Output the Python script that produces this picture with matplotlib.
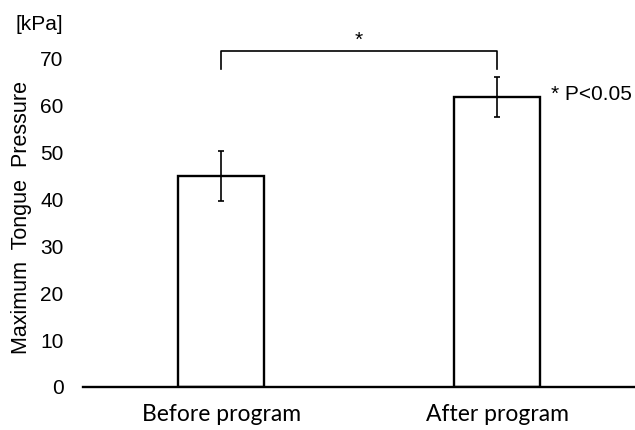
import numpy as np
import matplotlib
matplotlib.use("Agg")
import matplotlib.pyplot as plt

#%% data
groups = ["Before program", "After program"]
means = [45.0, 61.8]
errors = [5.3, 4.3]
yticks = [0, 10, 20, 30, 40, 50, 60, 70]

#%% figure
plt.rcParams['font.family'] = ['Liberation Sans', 'DejaVu Sans']
fig = plt.figure(figsize=(6.35, 4.3), dpi=100)
ax = fig.add_axes([0.131, 0.1, 0.869, 0.872])

x = np.arange(len(groups))
ax.bar(x, means, width=0.31, color='white', edgecolor='black', linewidth=1.7, zorder=2)
ax.errorbar(x, means, yerr=errors, fmt='none', ecolor='black', elinewidth=1.2,
            capsize=2, capthick=1.2, zorder=3)

ax.set_xlim(-0.5, 1.5)
ax.set_ylim(0, 80)
ax.set_yticks(yticks)
ax.set_xticks(x)
ax.set_xticklabels(groups, family=['Lato', 'DejaVu Sans'], fontsize=16.5)
ax.tick_params(axis='y', length=0, labelsize=15, pad=14)
ax.tick_params(axis='x', length=0, pad=12)

for s in ['top', 'right', 'left']:
    ax.spines[s].set_visible(False)
ax.spines['bottom'].set_linewidth(1.7)

ax.set_ylabel("Maximum  Tongue  Pressure", fontsize=15.5)
ax.yaxis.set_label_coords(-0.093, 0.453)
fig.text(0.024, 0.942, "[kPa]", fontsize=15, ha='left', va='center')

# significance bracket
y_top = 71.6
y_end = 67.8
ax.plot([0, 0, 1, 1], [y_end, y_top, y_top, y_end], color='black', lw=1.2, clip_on=False)
ax.text(0.5, y_top + 0.3, "*", ha='center', va='bottom', fontsize=15)
ax.text(1.195, 62.3, "* P<0.05", ha='left', va='center', fontsize=15)

fig.savefig("out.png", dpi=100)
